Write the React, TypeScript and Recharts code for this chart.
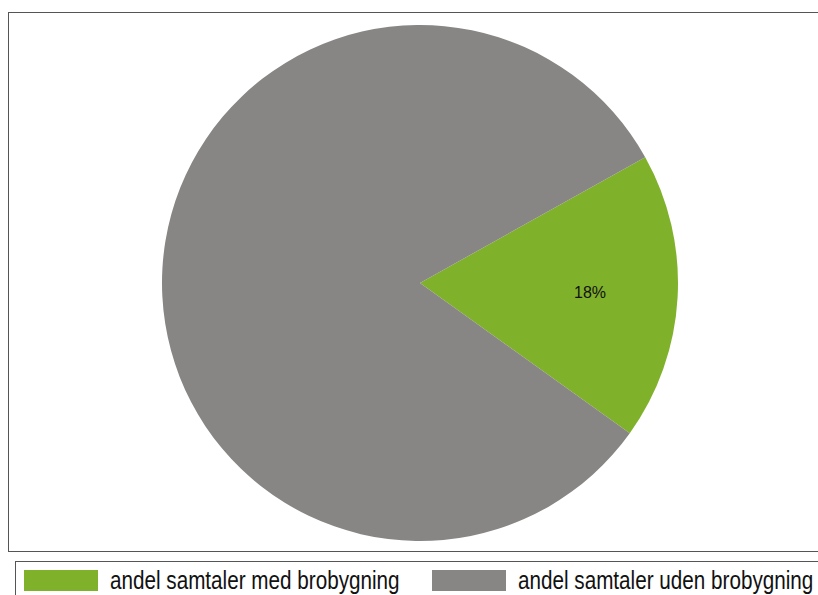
import React from "react";
import { PieChart, Pie, Cell } from "recharts";

// kategorier og værdier (procent)
const categories = ["andel samtaler med brobygning", "andel samtaler uden brobygning"];
const shares = [18, 82];
const colors = ["#80B12B", "#888684"];

const chartData = categories.map((name, i) => ({ name, value: shares[i] }));

const RADIAN = Math.PI / 180;
const legendX = [24, 432];

// kun det grønne stykke har en etiket
const renderLabel = (props: any) => {
  const { cx, cy, midAngle, outerRadius, percent, index } = props;
  if (index !== 0) return null;
  const r = outerRadius * 0.66;
  const x = cx + r * Math.cos(-midAngle * RADIAN);
  const y = cy + r * Math.sin(-midAngle * RADIAN);
  return (
    <text
      x={x}
      y={y}
      fill="#111"
      textAnchor="middle"
      dominantBaseline="central"
      fontSize={16}
      fontFamily="'Liberation Sans', Arial, sans-serif"
    >
      {`${Math.round(percent * 100)}%`}
    </text>
  );
};

export default function App() {
  return (
    <div
      style={{
        position: "absolute",
        left: 0,
        top: 0,
        width: 818,
        height: 595,
        overflow: "hidden",
        background: "#fff",
        fontFamily: "'Liberation Sans', Arial, sans-serif",
      }}
    >
      <div
        style={{
          position: "absolute",
          left: 8,
          top: 12,
          width: 820,
          height: 540,
          border: "1.5px solid #555",
          boxSizing: "border-box",
        }}
      />
      <div style={{ position: "absolute", left: 0, top: 0 }}>
        <PieChart width={818} height={595} margin={{ top: 0, right: 0, bottom: 0, left: 0 }}>
          <Pie
            data={chartData}
            dataKey="value"
            nameKey="name"
            cx={420}
            cy={283}
            outerRadius={258}
            startAngle={-35.6}
            endAngle={324.4}
            stroke="none"
            label={renderLabel}
            labelLine={false}
            isAnimationActive={false}
          >
            {chartData.map((d, i) => (
              <Cell key={d.name} fill={colors[i]} />
            ))}
          </Pie>
        </PieChart>
      </div>
      <div
        style={{
          position: "absolute",
          left: 15,
          top: 561,
          width: 820,
          height: 50,
          border: "1.5px solid #555",
          boxSizing: "border-box",
        }}
      />
      {categories.map((name, i) => (
        <React.Fragment key={name}>
          <span
            style={{
              position: "absolute",
              left: legendX[i],
              top: 570,
              width: 74,
              height: 21,
              background: colors[i],
            }}
          />
          <span
            style={{
              position: "absolute",
              left: legendX[i] + 86,
              top: 566,
              fontSize: 26,
              lineHeight: "28px",
              color: "#111",
              whiteSpace: "nowrap",
              transform: "scaleX(0.795)",
              transformOrigin: "left center",
            }}
          >
            {name}
          </span>
        </React.Fragment>
      ))}
    </div>
  );
}
